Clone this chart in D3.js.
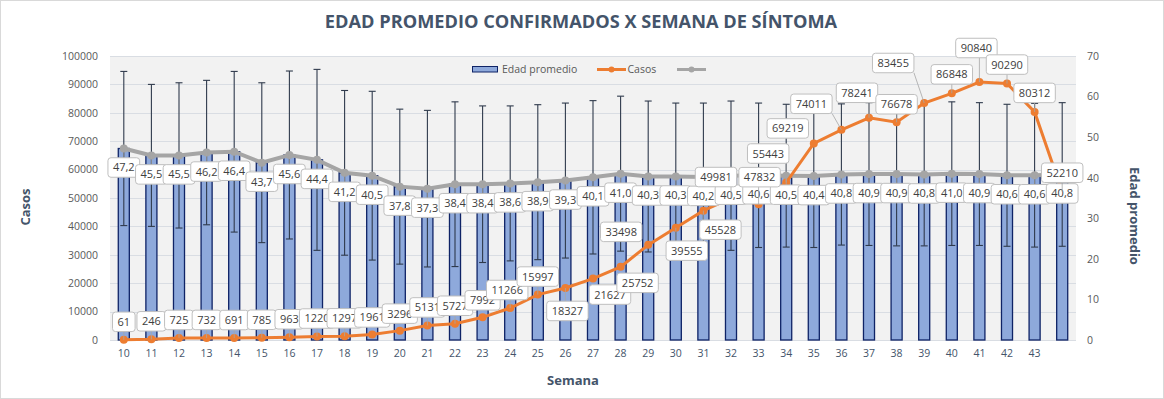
<!DOCTYPE html>
<html>
<head>
<meta charset="utf-8">
<script src="https://cdn.jsdelivr.net/npm/d3@7"></script>
<style>
  body { margin: 0; background: #fff; }
  svg { display: block; font-family: "Open Sans", sans-serif; }
</style>
</head>
<body>
<div id="chart"></div>
<script>
// semana epidemiológica (la última barra no tiene etiqueta)
const semanas = ["10","11","12","13","14","15","16","17","18","19","20","21","22","23","24","25","26",
  "27","28","29","30","31","32","33","34","35","36","37","38","39","40","41","42","43",""];

const edadPromedio = [47.2,45.5,45.5,46.2,46.4,43.7,45.6,44.4,41.2,40.5,37.8,37.3,38.4,38.4,38.6,38.9,39.3,
  40.1,41.0,40.3,40.3,40.2,40.5,40.6,40.5,40.4,40.8,40.9,40.9,40.8,41.0,40.9,40.6,40.6,40.8];

// desviación estándar (barras de error)
const edadDesv = [19.0,17.5,17.9,17.8,19.8,19.7,20.7,22.3,20.3,20.8,19.1,19.3,20.3,19.3,19.1,19.1,19.1,
  18.9,19.1,18.6,18.1,18.2,18.4,17.8,17.6,17.6,17.4,17.6,17.7,17.6,17.7,17.6,17.5,17.7,17.7];

const casos = [61,246,725,732,691,785,963,1220,1297,1961,3296,5131,5727,7992,11266,15997,18327,
  21627,25752,33498,39555,45528,49981,47832,55443,69219,74011,78241,76678,83455,86848,90840,90290,80312,52210];

const ticksCasos = [0,10000,20000,30000,40000,50000,60000,70000,80000,90000,100000];
const ticksEdad = [0,10,20,30,40,50,60,70];

// desplazamiento de las etiquetas de casos (movidas a mano en el original)
const casosLabelOff = [[0,-18],[0,-18],[0,-18],[0,-18],[0,-18],[0,-18],[0,-18],[0,-18],[0,-18],[0,-17],
  [0,-17],[0,-18],[0,-18],[0,-17],[-3,-18],[0,-18],[2,23],[17,16],[17,16],[-27,-13],[11,23],[17,19],
  [-15,-21],[1,-27],[-18,-29],[-26,-15],[-30,-26],[-12,-25],[0,-18],[-31,-40],[0,-19],[-3,-34],
  [0,-19],[0,-19],[0,-19]];

const W = 1164, H = 399;
const plot = { left: 110, right: 1076, top: 56, bottom: 340 };

const svg = d3.select('#chart').append('svg')
  .attr('width', W).attr('height', H);

svg.append('rect').attr('x', 0.5).attr('y', 0.5).attr('width', W - 1).attr('height', H - 1)
  .attr('fill', '#fff').attr('stroke', '#D9D9D9');

const x = d3.scaleBand().domain(semanas).range([plot.left, plot.right]);
const yL = d3.scaleLinear().domain([0, 100000]).range([plot.bottom, plot.top]);
const yR = d3.scaleLinear().domain([0, 70]).range([plot.bottom, plot.top]);
const cx = (i) => x(semanas[i]) + x.bandwidth() / 2;

// plot area
svg.append('rect').attr('x', plot.left).attr('y', plot.top)
  .attr('width', plot.right - plot.left).attr('height', plot.bottom - plot.top)
  .attr('fill', '#F2F2F2');

svg.append('g').selectAll('line').data(ticksCasos).join('line')
  .attr('x1', plot.left).attr('x2', plot.right)
  .attr('y1', d => Math.round(yL(d)) + 0.5).attr('y2', d => Math.round(yL(d)) + 0.5)
  .attr('stroke', '#D9DDE3').attr('stroke-width', 1);

// axes
const axL = svg.append('g').attr('transform', `translate(${plot.left},0)`)
  .call(d3.axisLeft(yL).tickValues(ticksCasos).tickSize(0).tickPadding(12).tickFormat(d3.format('d')));
const axR = svg.append('g').attr('transform', `translate(${plot.right},0)`)
  .call(d3.axisRight(yR).tickValues(ticksEdad).tickSize(0).tickPadding(11));
const axB = svg.append('g').attr('transform', `translate(0,${plot.bottom})`)
  .call(d3.axisBottom(x).tickSize(0).tickPadding(10));
[axL, axR, axB].forEach(a => {
  a.select('.domain').remove();
  a.selectAll('text').attr('font-family', '"Open Sans", sans-serif').attr('font-size', '10.5px');
});
axL.selectAll('text').attr('fill', '#595959');
axR.selectAll('text').attr('fill', '#595959');
axB.selectAll('text').attr('fill', '#44546A');

// bars
const bw = x.bandwidth() * 0.4;
svg.append('g').selectAll('rect').data(edadPromedio).join('rect')
  .attr('x', (d, i) => cx(i) - bw / 2)
  .attr('y', d => yR(d))
  .attr('width', bw)
  .attr('height', d => plot.bottom - yR(d))
  .attr('fill', '#8EA9DB').attr('stroke', '#0F2366').attr('stroke-width', 1.3);

// error bars
const eb = svg.append('g').attr('stroke', '#2F3A4C').attr('stroke-width', 1.1);
edadPromedio.forEach((d, i) => {
  const lo = yR(d - edadDesv[i]), hi = yR(d + edadDesv[i]);
  eb.append('line').attr('x1', cx(i)).attr('x2', cx(i)).attr('y1', lo).attr('y2', hi);
  eb.append('line').attr('x1', cx(i) - 3.5).attr('x2', cx(i) + 3.5).attr('y1', lo).attr('y2', lo);
  eb.append('line').attr('x1', cx(i) - 3.5).attr('x2', cx(i) + 3.5).attr('y1', hi).attr('y2', hi);
});

// gray line (edad)
svg.append('path').datum(edadPromedio)
  .attr('fill', 'none').attr('stroke', '#A5A5A5').attr('stroke-width', 4)
  .attr('d', d3.line().x((d, i) => cx(i)).y(d => yR(d)));
svg.append('g').selectAll('circle').data(edadPromedio).join('circle')
  .attr('cx', (d, i) => cx(i)).attr('cy', d => yR(d)).attr('r', 4)
  .attr('fill', '#A5A5A5');

// orange line (casos)
svg.append('path').datum(casos)
  .attr('fill', 'none').attr('stroke', '#ED7D31').attr('stroke-width', 3)
  .attr('d', d3.line().x((d, i) => cx(i)).y(d => yL(d)));
svg.append('g').selectAll('circle').data(casos).join('circle')
  .attr('cx', (d, i) => cx(i)).attr('cy', d => yL(d)).attr('r', 4)
  .attr('fill', '#ED7D31');

// callout labels
function callout(g, px, py, lx, ly, text) {
  const t = g.append('text').attr('x', lx).attr('y', ly).attr('dy', '0.36em')
    .attr('text-anchor', 'middle').attr('font-size', '11px').attr('fill', '#404040').text(text);
  const w = t.node().getComputedTextLength() + 10, h = 19.5;
  const bx = lx - w / 2, by = ly - h / 2;
  // leader line if moved away from the point
  const qx = Math.max(bx, Math.min(px, bx + w)), qy = Math.max(by, Math.min(py, by + h));
  if (Math.hypot(qx - px, qy - py) > 8) {
    g.insert('line', 'text').attr('x1', px).attr('y1', py).attr('x2', qx).attr('y2', qy)
      .attr('stroke', '#A6A6A6').attr('stroke-width', 0.8);
  }
  g.insert('rect', 'text').attr('x', bx).attr('y', by).attr('width', w).attr('height', h)
    .attr('rx', 3).attr('fill', '#fff').attr('stroke', '#BFBFBF').attr('stroke-width', 1);
  t.raise();
}

const fmtEdad = d => d.toFixed(1).replace('.', ',');
edadPromedio.forEach((d, i) => {
  callout(svg.append('g'), cx(i), yR(d), cx(i), yR(d) + 19, fmtEdad(d));
});
casos.forEach((d, i) => {
  const [dx, dy] = casosLabelOff[i];
  callout(svg.append('g'), cx(i), yL(d), cx(i) + dx, yL(d) + dy, d);
});

// legend
const lg = svg.append('g').attr('font-size', '10.5px').attr('fill', '#595959');
lg.append('rect').attr('x', 472.5).attr('y', 66.5).attr('width', 25).attr('height', 5.5)
  .attr('fill', '#8EA9DB').attr('stroke', '#0F2366');
lg.append('text').attr('x', 502).attr('y', 69.5).attr('dy', '0.35em').text('Edad promedio');
lg.append('line').attr('x1', 597).attr('x2', 626).attr('y1', 69.5).attr('y2', 69.5)
  .attr('stroke', '#ED7D31').attr('stroke-width', 3);
lg.append('circle').attr('cx', 611.5).attr('cy', 69.5).attr('r', 3).attr('fill', '#ED7D31');
lg.append('text').attr('x', 627.5).attr('y', 69.5).attr('dy', '0.35em').text('Casos');
lg.append('line').attr('x1', 677).attr('x2', 706).attr('y1', 69.5).attr('y2', 69.5)
  .attr('stroke', '#A5A5A5').attr('stroke-width', 3);
lg.append('circle').attr('cx', 691.5).attr('cy', 69.5).attr('r', 3).attr('fill', '#A5A5A5');

// titles
svg.append('text').attr('x', 581).attr('y', 22).attr('dy', '0.35em').attr('text-anchor', 'middle')
  .attr('font-size', '18.2px').attr('font-weight', 700).attr('fill', '#44546A')
  .text('EDAD PROMEDIO CONFIRMADOS X SEMANA DE SÍNTOMA');
svg.append('text').attr('x', 573).attr('y', 380).attr('dy', '0.35em').attr('text-anchor', 'middle')
  .attr('font-size', '13px').attr('font-weight', 700).attr('fill', '#44546A').text('Semana');
svg.append('text').attr('transform', 'translate(25,207) rotate(-90)').attr('dy', '0.35em')
  .attr('text-anchor', 'middle').attr('font-size', '13px').attr('font-weight', 700)
  .attr('fill', '#44546A').text('Casos');
svg.append('text').attr('transform', 'translate(1135,216) rotate(90)').attr('dy', '0.35em')
  .attr('text-anchor', 'middle').attr('font-size', '13px').attr('font-weight', 700)
  .attr('fill', '#44546A').text('Edad promedio');
</script>
</body>
</html>
